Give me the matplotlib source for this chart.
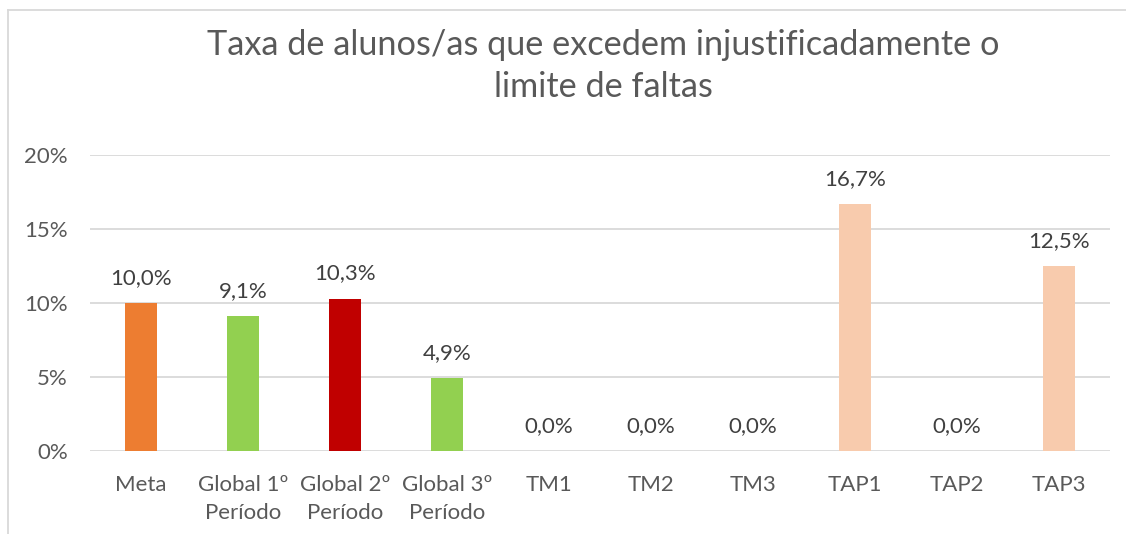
import matplotlib.pyplot as plt
from matplotlib.ticker import FuncFormatter

categories = ['Meta', 'Global 1º\nPeríodo', 'Global 2º\nPeríodo', 'Global 3º\nPeríodo',
              'TM1', 'TM2', 'TM3', 'TAP1', 'TAP2', 'TAP3']
values = [10.0, 9.1, 10.3, 4.9, 0.0, 0.0, 0.0, 16.7, 0.0, 12.5]
colors = ['#ED7D31', '#92D050', '#C00000', '#92D050',
          '#F8CBAD', '#F8CBAD', '#F8CBAD', '#F8CBAD', '#F8CBAD', '#F8CBAD']
yticks = [0, 5, 10, 15, 20]
title = 'Taxa de alunos/as que excedem injustificadamente o\nlimite de faltas'

txt = '#595959'
plt.rcParams['font.family'] = ['Lato', 'DejaVu Sans']

fig = plt.figure(figsize=(11.26, 5.34), dpi=100)
ax = fig.add_axes([90/1126, 1-451/534, 1020/1126, 296/534])

x = range(len(categories))
ax.bar(x, values, width=0.32, color=colors, zorder=3)
for i, v in zip(x, values):
    ax.annotate(f'{v:.1f}%'.replace('.', ','), (i, v), xytext=(0, 18),
                textcoords='offset points', ha='center', va='center',
                fontsize=16, color='#404040')

ax.set_xlim(-0.5, len(categories) - 0.5)
ax.set_ylim(0, 20)
ax.set_yticks(yticks)
ax.yaxis.set_major_formatter(FuncFormatter(lambda v, p: f'{v:.0f}%'))
ax.set_xticks(list(x))
ax.set_xticklabels(categories, linespacing=1.5)
ax.grid(axis='y', color='#D9D9D9', linewidth=1.3, zorder=0)
ax.tick_params(axis='both', length=0, labelsize=16, labelcolor=txt)
ax.tick_params(axis='y', pad=16)
ax.tick_params(axis='x', pad=17)
for s in ax.spines.values():
    s.set_visible(False)

fig.text(603/1126, 1-66/534, title, ha='center', va='center', fontsize=24.7,
         color=txt, linespacing=1.42)

# chart frame (only top and left edges fall inside the picture)
fig.add_artist(plt.Line2D([8/1126, 8/1126], [0, 1-10/534], color='#D9D9D9',
                          linewidth=1.3, transform=fig.transFigure))
fig.add_artist(plt.Line2D([8/1126, 1], [1-10/534, 1-10/534], color='#D9D9D9',
                          linewidth=1.3, transform=fig.transFigure))

fig.savefig('out.png', dpi=100)
